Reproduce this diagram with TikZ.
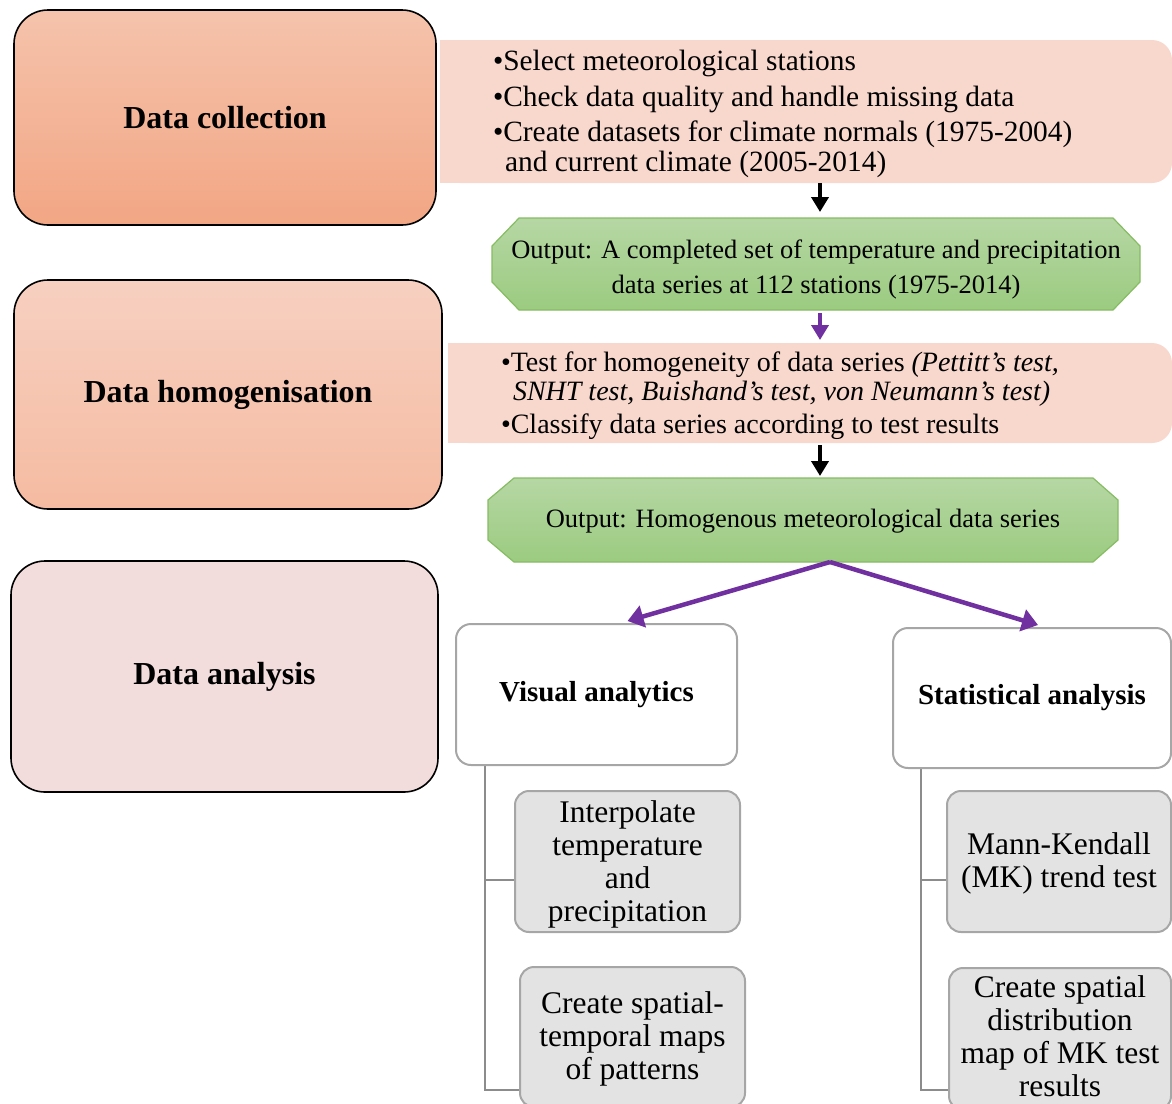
\documentclass[tikz,border=0pt]{standalone}
\usepackage{fontspec}
\setmainfont{Liberation Serif}
\usetikzlibrary{arrows.meta,backgrounds}
\definecolor{dcTop}{HTML}{F5C3AC}
\definecolor{dcBot}{HTML}{F2A684}
\definecolor{dhTop}{HTML}{F7D0C1}
\definecolor{dhBot}{HTML}{F5BBA1}
\definecolor{daFill}{HTML}{F2DCDC}
\definecolor{bullFill}{HTML}{F8D8CD}
\definecolor{gTop}{HTML}{B6D7A4}
\definecolor{gBot}{HTML}{9BCB80}
\definecolor{gBorder}{HTML}{86BC62}
\definecolor{purp}{HTML}{7030A0}
\definecolor{leafFill}{HTML}{E3E3E3}
\definecolor{leafBorder}{HTML}{A6A6A6}
\definecolor{treeLine}{HTML}{8C8C8C}
\begin{document}
\begin{tikzpicture}[x=1pt,y=-1pt,
  every node/.style={inner sep=0pt, outer sep=0pt},
  stagebox/.style={draw=black, line width=1.6pt, rounded corners=34pt,
    font=\fontsize{32}{36}\selectfont\bfseries},
  bulltext/.style={anchor=base west, font=\fontsize{29.4}{35}\selectfont},
  bulltextb/.style={anchor=base west, font=\fontsize{28}{34}\selectfont},
  outtext/.style={align=center, font=\fontsize{26.5}{35}\selectfont},
  octfill/.style={draw=gBorder, line width=1.2pt, top color=gTop, bottom color=gBot},
  subbox/.style={draw=leafBorder, line width=2pt, rounded corners=15pt, fill=white,
    font=\fontsize{29}{33}\selectfont\bfseries},
  leafbox/.style={draw=leafBorder, line width=2pt, rounded corners=14pt, fill=leafFill},
  leaftext/.style={align=center, font=\fontsize{31.5}{33}\selectfont},
  blkarrow/.style={draw=black, line width=4.5pt, -{Triangle[length=15pt,width=17pt]}},
  purarrow/.style={draw=purp, line width=4.5pt, -{Triangle[length=15pt,width=17pt]}},
  diagarrow/.style={draw=purp, line width=4.5pt, -{Triangle[length=16pt,width=22pt]}},
  treeedge/.style={draw=treeLine, line width=2.5pt}
]
\useasboundingbox (0,0) rectangle (1172,1103);
\clip (0,0) rectangle (1172,1103);

% left stage boxes
\node[stagebox, top color=dcTop, bottom color=dcBot, minimum width=422pt, minimum height=215pt] (dc) at (225,117.5) {Data collection};
\node[stagebox, top color=dhTop, bottom color=dhBot, minimum width=428pt, minimum height=229pt] (dh) at (228,394.5) {\raisebox{-3pt}{Data homogenisation}};
\node[stagebox, fill=daFill, minimum width=427pt, minimum height=231pt] (da) at (224.5,676.5) {\raisebox{-2pt}{Data analysis}};

% bullet boxes (holders)
\node[minimum width=732pt, minimum height=143pt] (b1) at (806,111.5) {};
\node[minimum width=724pt, minimum height=100pt] (b2) at (810,393) {};
\begin{scope}[on background layer]
  \fill[bullFill, rounded corners=20pt] (b1.north west) rectangle (b1.south east);
  \fill[bullFill] (b1.north west) rectangle ([xshift=-40pt]b1.south east);
  \fill[bullFill, rounded corners=20pt] (b2.north west) rectangle (b2.south east);
  \fill[bullFill] (b2.north west) rectangle ([xshift=-40pt]b2.south east);
\end{scope}
\node[bulltext] (b1a) at (493,70) {•Select meteorological stations};
\node[bulltext] (b1b) at (493,106) {•Check data quality and handle missing data};
\node[bulltext] (b1c) at (493,141) {•Create datasets for climate normals (1975-2004)};
\node[bulltext] (b1d) at (505,171) {and current climate (2005-2014)};

\node[bulltextb] (b2a) at (501,371) {•Test for homogeneity of data series \textit{(Pettitt's test,}};
\node[bulltextb] (b2b) at (513,400) {\textit{SNHT test, Buishand's test, von Neumann's test)}};
\node[bulltextb] (b2c) at (501,433) {•Classify data series according to test results};

% green output boxes
\node[minimum width=648pt, minimum height=92pt] (g1) at (816,264) {};
\node[minimum width=630pt, minimum height=84pt] (g2) at (803,520) {};
\begin{scope}[on background layer]
  \path[octfill] ([xshift=27pt]g1.north west) -- ([xshift=-27pt]g1.north east)
    -- ([yshift=-28pt]g1.north east) -- ([yshift=28pt]g1.south east)
    -- ([xshift=-27pt]g1.south east) -- ([xshift=27pt]g1.south west)
    -- ([yshift=28pt]g1.south west) -- ([yshift=-28pt]g1.north west) -- cycle;
  \path[octfill] ([xshift=26pt]g2.north west) -- ([xshift=-25pt]g2.north east)
    -- ([yshift=-22pt]g2.north east) -- ([yshift=22pt]g2.south east)
    -- ([xshift=-25pt]g2.south east) -- ([xshift=26pt]g2.south west)
    -- ([yshift=22pt]g2.south west) -- ([yshift=-22pt]g2.north west) -- cycle;
\end{scope}
\node[outtext] (g1t) at ([yshift=-5pt]g1.center)
  {Output: A completed set of temperature and precipitation\\data series at 112 stations (1975-2014)};
\node[outtext] (g2t) at ([yshift=-1pt]g2.center)
  {Output: Homogenous meteorological data series};

% vertical arrows
\draw[blkarrow] ([xshift=14pt]b1.south) -- ([xshift=4pt,yshift=6pt]g1.north);
\draw[purarrow] ([xshift=4pt,yshift=-3pt]g1.south) -- ([xshift=10pt,yshift=3pt]b2.north);
\draw[blkarrow] ([xshift=10pt,yshift=-2pt]b2.south) -- ([xshift=17pt,yshift=2pt]g2.north);

% analysis branches
\node[subbox, minimum width=281pt, minimum height=141pt] (va) at (596.5,694.5) {\raisebox{-3pt}{Visual analytics}};
\node[subbox, minimum width=278pt, minimum height=140pt] (st) at (1032,698) {\raisebox{-2pt}{Statistical analysis}};

\coordinate (apex) at ([xshift=27pt]g2.south);
\draw[diagarrow] (apex) -- ([xshift=31pt,yshift=3pt]va.north);
\draw[diagarrow] (apex) -- ([xshift=6pt,yshift=3pt]st.north);

% leaves
\node[leafbox, minimum width=225pt, minimum height=141pt] (l1) at (627.5,861.5) {};
\node[leafbox, minimum width=225pt, minimum height=140pt] (l2) at (632.5,1037) {};
\node[leafbox, minimum width=224pt, minimum height=141pt] (r1) at (1059,861.5) {};
\node[leafbox, minimum width=222pt, minimum height=142pt] (r2) at (1060,1039) {};
\node[leaftext] (l1t) at ([yshift=-3pt]l1.center) {Interpolate\\temperature\\and\\precipitation};
\node[leaftext] (l2t) at ([yshift=-2pt]l2.center) {Create spatial-\\temporal maps\\of patterns};
\node[leaftext] (r1t) at ([yshift=-2pt]r1.center) {Mann-Kendall\\(MK) trend test};
\node[leaftext] (r2t) at ([yshift=3pt]r2.center) {Create spatial\\distribution\\map of MK test\\results};

\begin{scope}[on background layer]
  \draw[treeedge] ([xshift=29pt]va.south west) |- ([yshift=-53pt]l2.west);
  \draw[treeedge] ([xshift=29pt]va.south west |- l1.west) ++(0,18.5) -- ([yshift=-18.5pt]l1.west);
  \draw[treeedge] ([xshift=28pt]st.south west) |- ([yshift=-51pt]r2.west);
  \draw[treeedge] ([xshift=28pt]st.south west |- r1.west) ++(0,18.5) -- ([yshift=-18.5pt]r1.west);
\end{scope}
\end{tikzpicture}
\end{document}
